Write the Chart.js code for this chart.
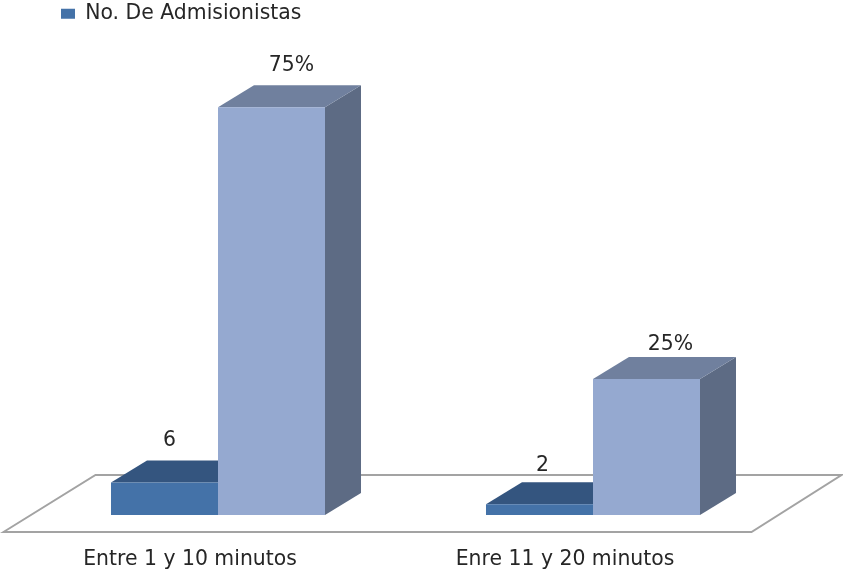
<!DOCTYPE html>
<html>
<head>
<meta charset="utf-8">
<title>Admisionistas</title>
<script src="https://cdn.jsdelivr.net/npm/chart.js@4"></script>
<style>
    html, body { margin: 0; padding: 0; background: #fff; }
    #wrap { width: 843px; height: 571px; }
</style>
</head>
<body>
<div id="wrap"><canvas id="tiemposChart" width="843" height="571"></canvas></div>
<script>
const categories = ['Entre 1 y 10 minutos', 'Enre 11 y 20 minutos'];
const admisionistas = [6, 2];
const porcentajes = [75, 25];
const seriesName = 'No. De Admisionistas';

const fontFamily = '"DejaVu Sans", sans-serif';
const fontSize = 20.4;
const depthX = 36;
const depthY = 22;

// fake 3D: floor and the top/side faces are drawn behind the regular bars
const box3d = {
    id: 'box3d',
    afterLayout(chart) {
        chart.legend.left = 57;
        chart.legend.top = -0.5;
    },
    beforeDatasetsDraw(chart) {
        const ctx = chart.ctx;
        const base = chart.scales.y.getPixelForValue(0);
        const area = chart.chartArea;

        ctx.save();
        ctx.beginPath();
        ctx.moveTo(area.left - 27, base + 17);
        ctx.lineTo(area.left + 65, base - 40);
        ctx.lineTo(area.right + 61, base - 40);
        ctx.lineTo(area.right - 29, base + 17);
        ctx.closePath();
        ctx.strokeStyle = '#a3a3a3';
        ctx.lineWidth = 2;
        ctx.stroke();

        chart.data.datasets.forEach((ds, i) => {
            chart.getDatasetMeta(i).data.forEach(bar => {
                const left = bar.x - bar.width / 2;
                const right = bar.x + bar.width / 2;

                ctx.fillStyle = ds.sideColor;
                ctx.beginPath();
                ctx.moveTo(right, bar.y);
                ctx.lineTo(right + depthX, bar.y - depthY);
                ctx.lineTo(right + depthX, base - depthY);
                ctx.lineTo(right, base);
                ctx.closePath();
                ctx.fill();

                ctx.fillStyle = ds.topColor;
                ctx.beginPath();
                ctx.moveTo(left, bar.y);
                ctx.lineTo(left + depthX, bar.y - depthY);
                ctx.lineTo(right + depthX, bar.y - depthY);
                ctx.lineTo(right, bar.y);
                ctx.closePath();
                ctx.fill();
            });
        });
        ctx.restore();
    },
    afterDatasetsDraw(chart) {
        const ctx = chart.ctx;
        ctx.save();
        ctx.font = fontSize + 'px ' + fontFamily;
        ctx.fillStyle = '#262626';
        ctx.textAlign = 'center';
        ctx.textBaseline = 'middle';
        chart.data.datasets.forEach((ds, i) => {
            chart.getDatasetMeta(i).data.forEach((bar, j) => {
                const text = ds.data[j] + ds.suffix;
                ctx.fillText(text, bar.x + ds.labelDx[j], bar.y + ds.labelDy[j]);
            });
        });
        ctx.restore();
    }
};

new Chart(document.getElementById('tiemposChart'), {
    type: 'bar',
    data: {
        labels: categories,
        datasets: [
            {
                label: seriesName,
                data: admisionistas,
                backgroundColor: '#4472a8',
                topColor: '#34557f',
                sideColor: '#2f4d74',
                suffix: '',
                labelDx: [5, 3],
                labelDy: [-42, -38]
            },
            {
                label: 'Porcentaje',
                data: porcentajes,
                backgroundColor: '#95a9d0',
                topColor: '#70809e',
                sideColor: '#5d6b84',
                suffix: '%',
                labelDx: [20, 24],
                labelDy: [-42, -34]
            }
        ]
    },
    options: {
        responsive: false,
        animation: false,
        layout: { padding: { left: 30.5, right: 62.5, top: 0, bottom: 0 } },
        datasets: { bar: { categoryPercentage: 0.5707, barPercentage: 1 } },
        scales: {
            x: {
                grid: { display: false },
                border: { display: false },
                afterFit(scale) { scale.height = 56; },
                ticks: {
                    color: '#262626',
                    font: { family: fontFamily, size: fontSize },
                    padding: 24,
                    labelOffset: -28,
                    maxRotation: 0
                }
            },
            y: { display: false, min: 0, max: 88.4 }
        },
        plugins: {
            tooltip: { enabled: false },
            legend: {
                position: 'top',
                align: 'start',
                labels: {
                    color: '#262626',
                    font: { family: fontFamily, size: fontSize },
                    boxWidth: 14,
                    boxHeight: 10,
                    padding: 4,
                    filter: item => item.text === seriesName
                }
            }
        }
    },
    plugins: [box3d]
});
</script>
</body>
</html>
